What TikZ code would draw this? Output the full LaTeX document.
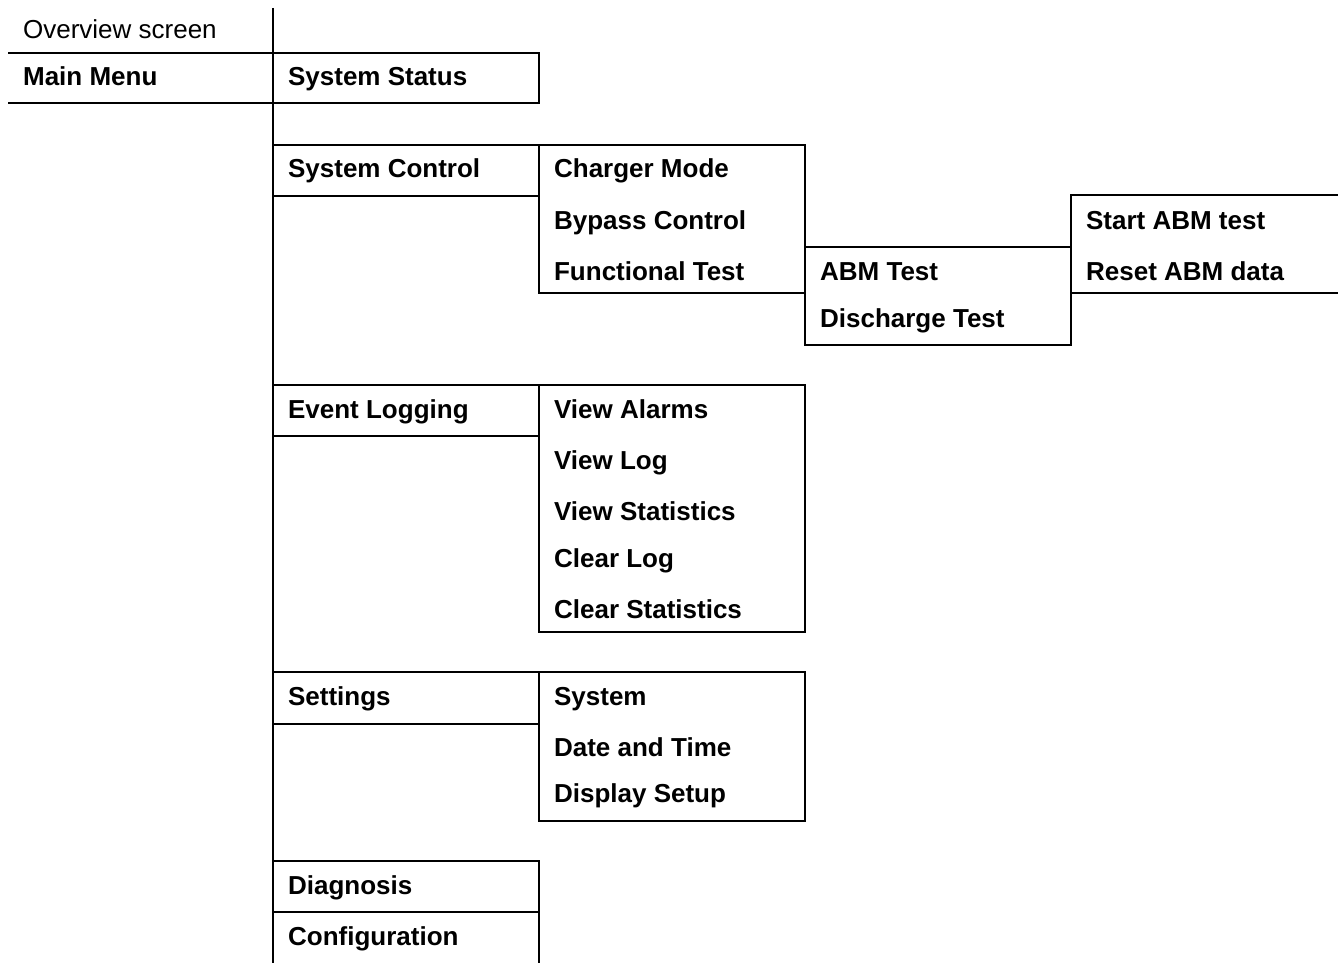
\documentclass[tikz,border=0pt]{standalone}
\usepackage{fontspec}
\setmainfont{Liberation Sans}
\begin{document}
\begin{tikzpicture}[x=1pt,y=-1pt,line width=2.2pt,
	entry/.style={anchor=base west,inner sep=0pt,font=\fontsize{26}{31}\selectfont\bfseries},
	plain/.style={entry,font=\fontsize{26}{31}\selectfont}]
\useasboundingbox (0,0) rectangle (1338,963);
% lines of the menu
\draw (273,8) -- (273,963);
\draw (8,53) -- (539,53) -- (539,103) -- (8,103);
\draw (273,145) -- (805,145) -- (805,345) -- (1071,345) -- (1071,195) -- (1338,195);
\draw (273,196) -- (539,196);
\draw (539,145) -- (539,293) -- (805,293);
\draw (805,247) -- (1071,247);
\draw (1071,293) -- (1338,293);
\draw (273,385) -- (805,385) -- (805,632) -- (539,632) -- (539,385);
\draw (273,436) -- (539,436);
\draw (273,672) -- (805,672) -- (805,821) -- (539,821) -- (539,672);
\draw (273,724) -- (539,724);
\draw (273,861) -- (539,861) -- (539,963);
\draw (273,912) -- (539,912);
% entries
\node[plain] (ov) at (22,39) {Overview screen};
\node[entry] (mm) at (22,86) {Main Menu};
\node[entry] (sst) at (287,86) {System Status};
\node[entry] (sc) at (287,177) {System Control};
\node[entry] (cm) at (553,177) {Charger Mode};
\node[entry] (bc) at (553,229) {Bypass Control};
\node[entry] (ft) at (553,280) {Functional Test};
\node[entry] (abm) at (819,280) {ABM Test};
\node[entry] (dt) at (819,327) {Discharge Test};
\node[entry] (sabm) at (1085,229) {Start ABM test};
\node[entry] (rabm) at (1085,280) {Reset ABM data};
\node[entry] (el) at (287,418) {Event Logging};
\node[entry] (va) at (553,418) {View Alarms};
\node[entry] (vl) at (553,469) {View Log};
\node[entry] (vs) at (553,520) {View Statistics};
\node[entry] (cl) at (553,567) {Clear Log};
\node[entry] (cs) at (553,618) {Clear Statistics};
\node[entry] (set) at (287,705) {Settings};
\node[entry] (sys) at (553,705) {System};
\node[entry] (dat) at (553,756) {Date and Time};
\node[entry] (ds) at (553,802) {Display Setup};
\node[entry] (dia) at (287,894) {Diagnosis};
\node[entry] (cfg) at (287,945) {Configuration};
\end{tikzpicture}
\end{document}
